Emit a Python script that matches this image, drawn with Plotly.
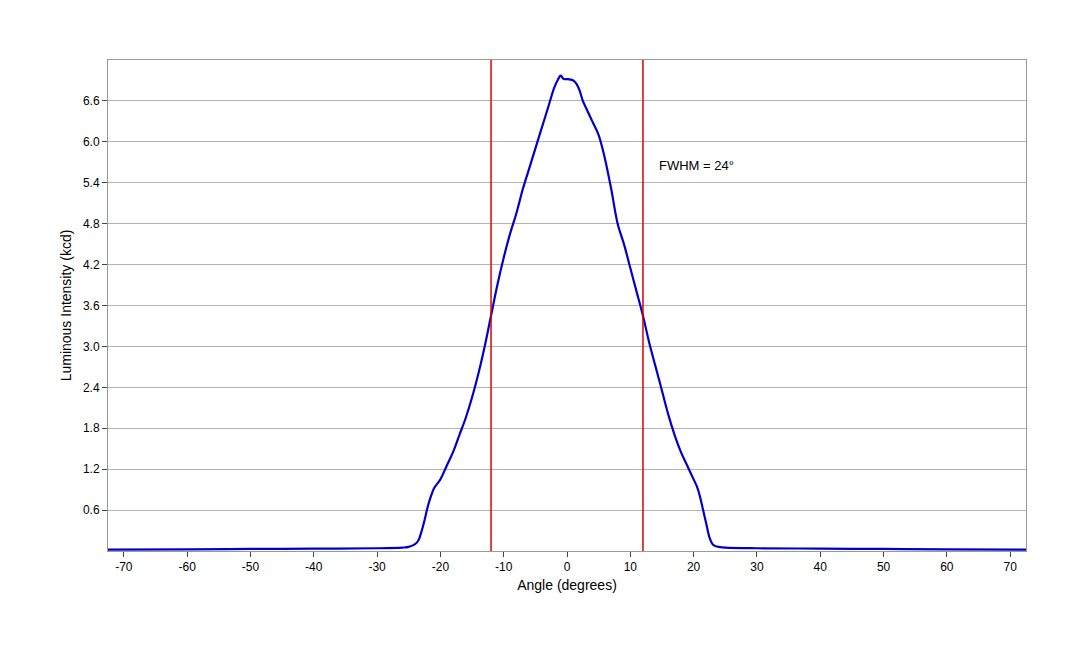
import plotly.graph_objects as go

angle = [-72.5,-60,-50,-40,-30,-26,-25,-24,-23.5,-23,-22.5,-22,-21.5,-21,-20,-19,-18,-17,-16,-15,-14,-13,-12,-11,-10,-9,-8,-7,-6,-5,-4,-3,-2,-1.5,-1,-0.5,0,1,1.5,2,2.5,3,4,5,6,7,8,9,10,11,12,13,14,15,16,17,18,19,20,20.5,21,21.5,22,22.5,23,23.5,24,25,30,40,50,60,72.5]
intensity = [0.02,0.025,0.03,0.035,0.04,0.05,0.06,0.1,0.15,0.28,0.45,0.65,0.8,0.92,1.05,1.25,1.45,1.7,1.95,2.25,2.6,3.0,3.45,3.9,4.3,4.65,4.95,5.3,5.6,5.9,6.2,6.5,6.8,6.9,6.97,6.92,6.92,6.9,6.85,6.75,6.6,6.5,6.3,6.1,5.75,5.3,4.8,4.5,4.15,3.8,3.45,3.05,2.7,2.35,2.0,1.7,1.45,1.25,1.05,0.95,0.8,0.6,0.4,0.2,0.1,0.07,0.06,0.05,0.04,0.035,0.03,0.025,0.02]
fwhm_lines = [-12, 12]
xticks = list(range(-70, 71, 10))
xticklabels = [str(v) for v in xticks]
yticks = [0.6,1.2,1.8,2.4,3.0,3.6,4.2,4.8,5.4,6.0,6.6]

fig = go.Figure()
fig.add_trace(go.Scatter(x=angle, y=intensity, mode="lines", line=dict(color="#0000cc", width=2.2), line_shape="spline", showlegend=False))
for v in fwhm_lines:
    fig.add_shape(type="line", x0=v, x1=v, y0=0, y1=1, yref="paper", line=dict(color="#dd0000", width=1.5))
fig.add_annotation(x=14.2, y=5.66, text="FWHM = 24°", showarrow=False, xanchor="left", font=dict(size=13, color="#000"))
fig.update_layout(
    width=1080, height=648, plot_bgcolor="white", paper_bgcolor="white",
    margin=dict(l=100, r=62, t=52, b=105),
    font=dict(family="Liberation Sans, Arial, sans-serif", size=12, color="#000"),
    xaxis=dict(range=[-72.5, 72.5], tickvals=xticks, ticktext=xticklabels, ticks="outside", ticklen=5, showgrid=False,
               showline=True, linecolor="#999", mirror=True, zeroline=False,
               title=dict(text="Angle (degrees)", standoff=6)),
    yaxis=dict(range=[0, 7.2], tickvals=yticks, tickformat=".1f", ticks="outside", ticklen=5,
               showgrid=True, gridcolor="#b3b3b3", showline=True, linecolor="#999", mirror=True,
               zeroline=False, title=dict(text="Luminous Intensity (kcd)", standoff=8)),
)
fig.write_html("out.html")
